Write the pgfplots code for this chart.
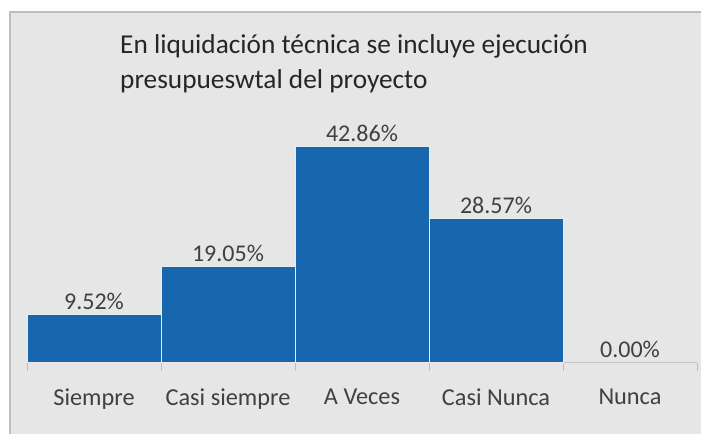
\documentclass[border=0pt]{standalone}
\usepackage{pgfplots}
\pgfplotsset{compat=1.18}
\usepackage{fontspec}
\setmainfont{Carlito}
\definecolor{barblue}{RGB}{23,103,174}
\definecolor{bggray}{RGB}{230,230,230}
\definecolor{framegray}{RGB}{190,190,190}
\definecolor{txtgray}{RGB}{64,64,64}
\begin{document}
\begin{tikzpicture}[x=1bp,y=1bp]
\path[use as bounding box, fill=white] (0,0) rectangle (701bp,434bp);
\clip (0,0) rectangle (701bp,434bp);
\fill[bggray] (10bp,-5bp) rectangle (710bp,422bp);
\draw[framegray, line width=1.5bp] (10bp,-5bp) -- (10bp,422bp) -- (710bp,422bp);
\node[anchor=north west, align=left, inner sep=0pt, text=black!85,
      font=\fontsize{27.3bp}{35bp}\selectfont] at (120bp,400bp)
  {En liquidación técnica se incluye ejecución\\presupueswtal del proyecto};
\begin{axis}[
    at={(27bp,71bp)}, anchor=south west,
    scale only axis,
    width=670bp, height=253bp,
    xmin=-0.5, xmax=4.5,
    ymin=0, ymax=50,
    axis x line=bottom,
    hide y axis,
    x axis line style={framegray, line width=1bp, -},
    xtick={0,1,2,3,4},
    xticklabels={Siempre, Casi siempre, A Veces, Casi Nunca, Nunca},
    major tick length=0pt,
    minor xtick={-0.5,0.5,1.5,2.5,3.5,4.5},
    minor tick length=8bp,
    tick align=outside,
    minor tick style={framegray, line width=1bp},
    xticklabel style={font=\fontsize{24.3bp}{28bp}\selectfont, text=txtgray, yshift=-22bp},
    /pgf/number format/assume math mode=true,
    ybar, bar width=1,
    nodes near coords={\pgfmathprintnumber[fixed, fixed zerofill, precision=2]{\pgfplotspointmeta}\%},
    every node near coord/.append style={font=\fontsize{24bp}{28bp}\selectfont, text=txtgray, yshift=1bp},
    clip=false,
]
\addplot[fill=barblue, draw=white!85!gray, line width=1bp] coordinates {
    (0,9.52) (1,19.05) (2,42.86) (3,28.57) (4,0.00)
};
\end{axis}
\end{tikzpicture}
\end{document}
